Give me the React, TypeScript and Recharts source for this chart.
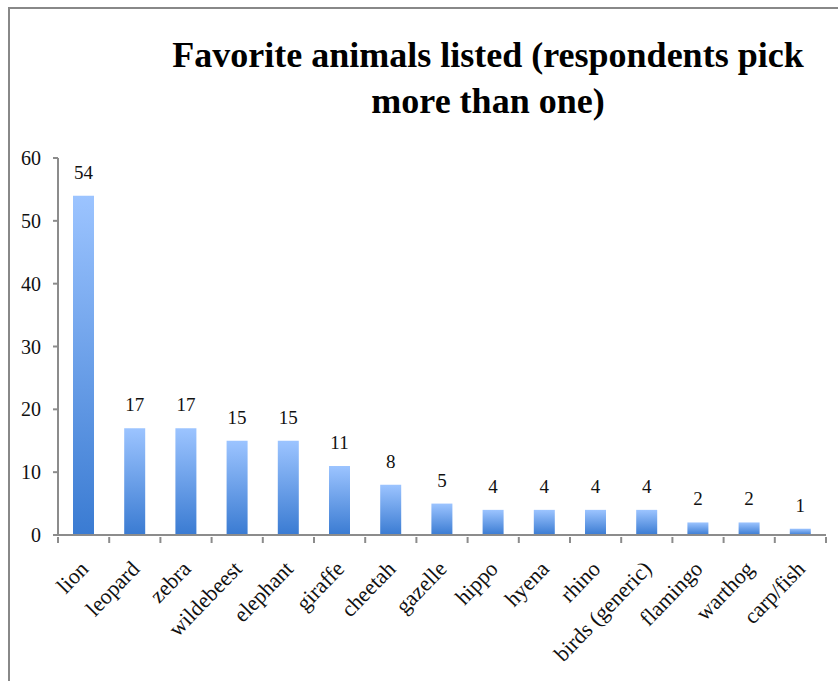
import { BarChart, Bar, XAxis, YAxis, LabelList } from "recharts";

const animals = [
  "lion",
  "leopard",
  "zebra",
  "wildebeest",
  "elephant",
  "giraffe",
  "cheetah",
  "gazelle",
  "hippo",
  "hyena",
  "rhino",
  "birds (generic)",
  "flamingo",
  "warthog",
  "carp/fish",
];
const counts = [54, 17, 17, 15, 15, 11, 8, 5, 4, 4, 4, 4, 2, 2, 1];
const yTicks = [0, 10, 20, 30, 40, 50, 60];

const data = animals.map((name, i) => ({ name, count: counts[i] }));

const FONT = "'Liberation Serif', serif";
const AXIS = "#8c8c8c";
const W = 838;
const H = 681;
const MARGIN = { top: 158, right: 12, bottom: 20, left: 10 };
const Y_W = 48;
// width of one category band, used to put tick marks between bars
const BAND = (W - MARGIN.left - MARGIN.right - Y_W) / animals.length;

function AnimalTick({ x, y, payload, index }: any) {
  const last = index === animals.length - 1;
  return (
    <g>
      <line x1={x - BAND / 2} x2={x - BAND / 2} y1={y - 8} y2={y - 2} stroke={AXIS} strokeWidth={2} />
      {last && (
        <line x1={x + BAND / 2} x2={x + BAND / 2} y1={y - 8} y2={y - 2} stroke={AXIS} strokeWidth={2} />
      )}
      <g transform={`translate(${x + 6},${y + 25})`}>
        <text
          x={0}
          y={0}
          textAnchor="end"
          transform="rotate(-46)"
          fontFamily={FONT}
          fontSize={22}
          fill="#111"
        >
          {payload.value}
        </text>
      </g>
    </g>
  );
}

export default function App() {
  return (
    <div
      style={{
        position: "absolute",
        left: 0,
        top: 0,
        width: W,
        height: H,
        background: "#fff",
        overflow: "hidden",
      }}
    >
      {/* frame of the original slide, running off the right and bottom */}
      <div
        style={{
          position: "absolute",
          left: 8,
          top: 7,
          width: 900,
          height: 760,
          border: "2px solid #888",
          boxSizing: "border-box",
        }}
      />
      <div
        style={{
          position: "absolute",
          left: 88,
          width: 800,
          top: 32,
          textAlign: "center",
          fontFamily: FONT,
          fontWeight: "bold",
          fontSize: 36,
          lineHeight: "46px",
          color: "#000",
        }}
      >
        Favorite animals listed (respondents pick
        <br />
        more than one)
      </div>
      <div style={{ position: "absolute", left: 0, top: 0 }}>
        <BarChart width={W} height={H} data={data} margin={MARGIN} barCategoryGap={15}>
          <defs>
            <linearGradient id="barFill" x1="0" y1="0" x2="0" y2="1">
              <stop offset="0%" stopColor="#9cc4ff" />
              <stop offset="100%" stopColor="#3a7bd2" />
            </linearGradient>
          </defs>
          <XAxis
            dataKey="name"
            interval={0}
            height={146 - MARGIN.bottom}
            tickLine={false}
            tickSize={8}
            axisLine={{ stroke: AXIS, strokeWidth: 2 }}
            tick={<AnimalTick />}
          />
          <YAxis
            width={Y_W}
            domain={[0, 60]}
            ticks={yTicks}
            interval={0}
            axisLine={{ stroke: AXIS, strokeWidth: 2 }}
            tickLine={{ stroke: AXIS, strokeWidth: 2 }}
            tickSize={5}
            tickMargin={12}
            tick={{ fontFamily: FONT, fontSize: 20, fill: "#111" }}
          />
          <Bar dataKey="count" fill="url(#barFill)" isAnimationActive={false}>
            <LabelList
              dataKey="count"
              position="top"
              offset={17}
              style={{ fontFamily: FONT, fontSize: 19, fill: "#111" }}
            />
          </Bar>
        </BarChart>
      </div>
    </div>
  );
}
